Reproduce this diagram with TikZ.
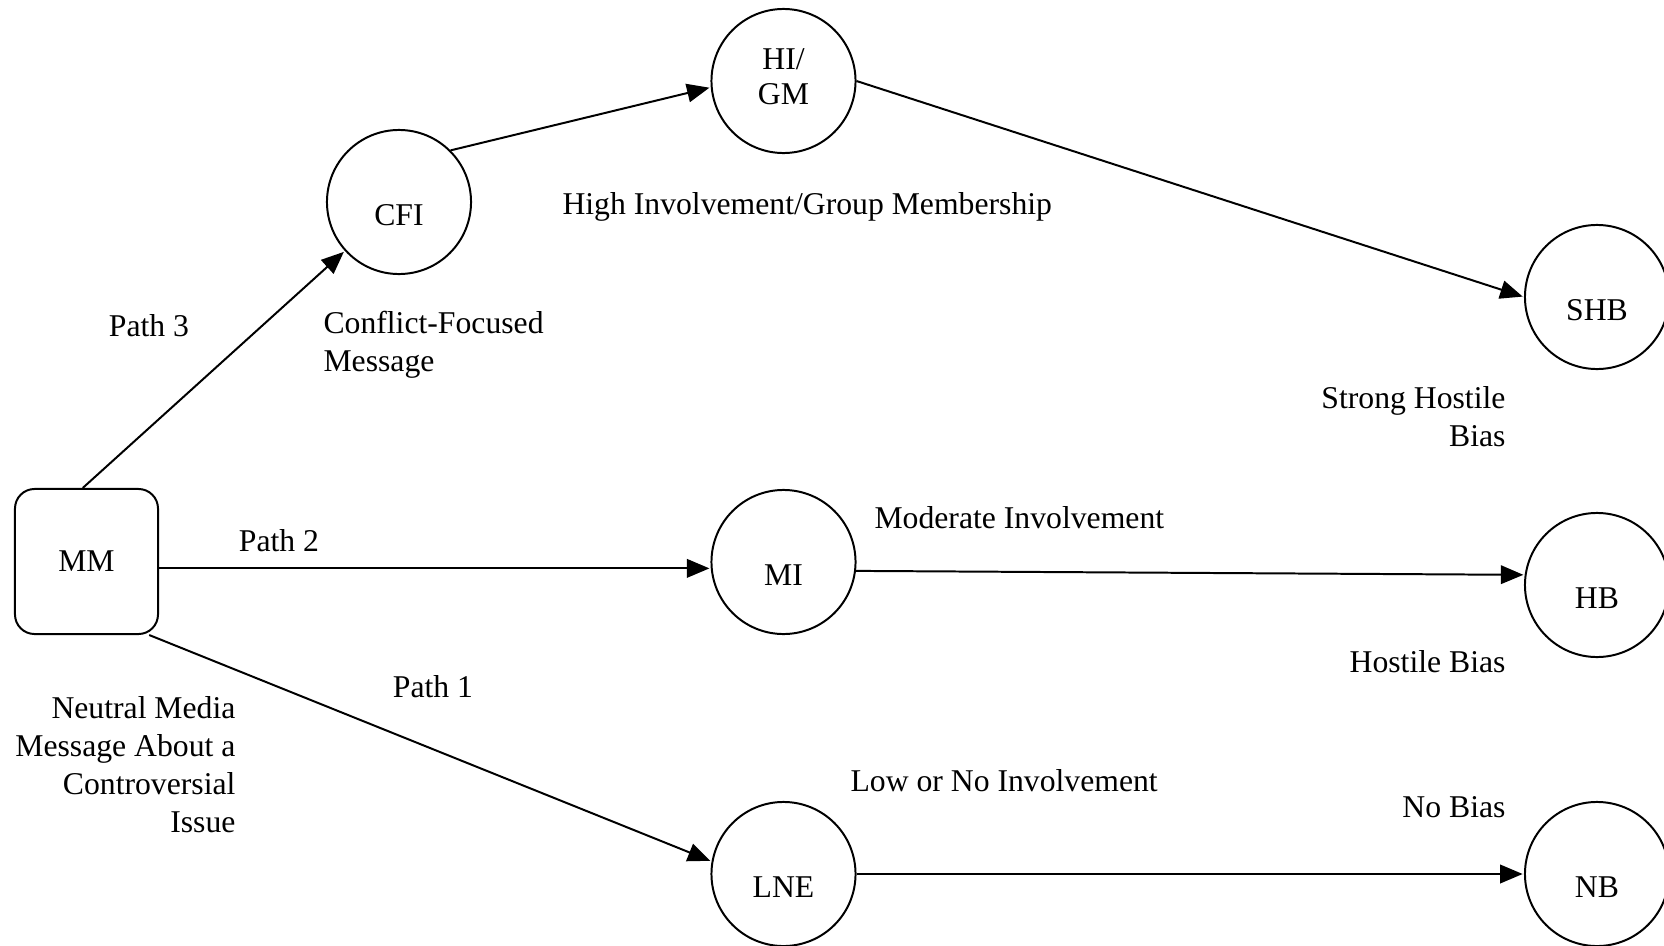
\documentclass[tikz,border=0pt]{standalone}
\usepackage{fontspec}
\setmainfont{Liberation Serif}
\usetikzlibrary{arrows.meta}

\tikzset{
    state/.style={circle, draw, line width=0.75pt, minimum size=1.917cm, inner sep=0pt},
    source/.style={rectangle, draw, line width=0.75pt, rounded corners=0.26cm, minimum width=1.903cm, minimum height=1.93cm, inner sep=0pt},
    link/.style={-{Triangle[length=8.5pt, width=7pt]}, line width=0.75pt, shorten >=0.5pt},
    txt/.style={font=\fontsize{12}{14.4}\selectfont, inner sep=0pt}
}

\begin{document}
\begin{tikzpicture}[x=0.01331cm, y=-0.01331cm, every node/.append style={font=\fontsize{12}{14.4}\selectfont}]
    \useasboundingbox (0,0) rectangle (1664,946);

    % Source message
    \node[source] (MM) at (86.5,561.5) {MM};

    % Involvement states
    \node[state, label={[yshift=0.02cm]center:\begin{tabular}{@{}c@{}}HI/\\[-1pt]GM\end{tabular}}] (HIGM) at (783.5,81) {};
    \node[state, label={[yshift=-0.17cm]center:CFI}] (CFI) at (399,202) {};
    \node[state, label={[yshift=-0.17cm]center:MI}] (MI) at (783.5,562) {};
    \node[state, label={[yshift=-0.17cm]center:LNE}] (LNE) at (783.5,874) {};

    % Outcomes
    \node[state, label={[yshift=-0.17cm]center:SHB}] (SHB) at (1597,297) {};
    \node[state, label={[yshift=-0.17cm]center:HB}] (HB) at (1597,585) {};
    \node[state, label={[yshift=-0.17cm]center:NB}] (NB) at (1597,874) {};

    % Paths
    \draw[link] ([xshift=-0.05cm]MM.north) -- (CFI);
    \draw[link] (CFI.45) -- (HIGM.185);
    \draw[link] (HIGM.east) -- (SHB.west);
    \draw[link] (MM.east |- MI.185) -- (MI.185);
    \draw[link] (MI.353) -- (HB.172);
    \draw[link] ([xshift=-0.13cm]MM.south east) -- (LNE.170);
    \draw[link] (LNE.east) -- (NB.west);

    % Labels
    \node[txt] (p3) at (149,326) {Path 3};
    \node[txt] (p2) at (279,541) {Path 2};
    \node[txt] (p1) at (433,687) {Path 1};
    \node[txt, anchor=west, align=left] (cfm) at (323,345) {Conflict-Focused\\Message};
    \node[txt, anchor=west] (hig) at (562,207) {High Involvement/Group Membership};
    \node[txt, anchor=east, align=right] (shbl) at (1506,416.5) {Strong Hostile\\Bias};
    \node[txt, anchor=west] (mil) at (874,518) {Moderate Involvement};
    \node[txt, anchor=east] (hbl) at (1506,662) {Hostile Bias};
    \node[txt, anchor=east, align=right] (mml) at (236,765) {Neutral Media\\Message About a\\Controversial\\Issue};
    \node[txt, anchor=west] (lnel) at (850,781) {Low or No Involvement};
    \node[txt, anchor=east] (nbl) at (1506,807) {No Bias};
\end{tikzpicture}
\end{document}
